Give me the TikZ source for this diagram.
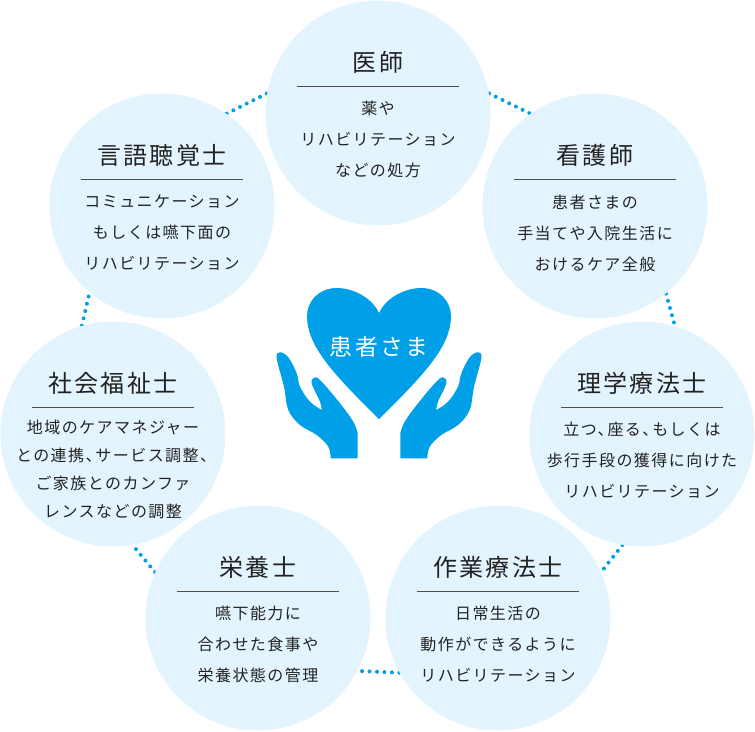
\documentclass[tikz,border=0pt]{standalone}
\usepackage{fontspec}
\usepackage{tikz}
\usetikzlibrary{backgrounds}
\newfontfamily\jpfont[LetterSpace=10]{Noto Sans CJK JP}
\newfontfamily\jpbodyfont[LetterSpace=9]{Noto Sans CJK JP}
\newcommand{\tightcomma}{、\kern-4.6pt\relax}
\definecolor{bubblefill}{HTML}{E4F4FF}
\definecolor{careblue}{HTML}{00A0E9}
\definecolor{inkgray}{HTML}{222222}
\tikzset{
    bubble/.style={circle, fill=bubblefill, minimum size=168.75pt, inner sep=0pt},
    head/.style={minimum width=121.5pt, minimum height=36pt, inner sep=0pt, text=inkgray, font=\jpfont\fontsize{18pt}{22pt}\selectfont},
    body/.style={align=center, inner sep=0pt, text=inkgray, font=\jpbodyfont\fontsize{12pt}{23.25pt}\selectfont},
    bodytight/.style={body, font=\jpbodyfont\fontsize{12pt}{21pt}\selectfont},
    headrule/.style={draw=inkgray!80, line width=0.9pt},
    dots/.style={draw=careblue, line width=3pt, line cap=round, dash pattern=on 0pt off 5.6pt},
}
\newcommand{\handshape}{
    plot[smooth, tension=0.6] coordinates {(330.7,458.3) (328.3,446.7) (316.7,435) (300,425) (288.3,410) (284,386.7) (276.7,358.3) (280,352.3) (288.3,357.3) (296.7,373.3) (300,386.7) (310,401.7) (321.7,410)}
    -- plot[smooth, tension=0.6] coordinates {(321.7,410) (320,401.7) (311.7,383.3) (315,377.3) (321.7,381.7) (340,403.3) (353.3,421.7) (357.7,433.3)}
    -- (357.7,458.3) -- cycle
}
\begin{document}
\begin{tikzpicture}[x=0.75pt, y=-0.75pt]
    \useasboundingbox (0,0) rectangle (755,731);

    % Draw the bubbles
    \node (doctor) [bubble] at (378,113) {};
    \node (nurse) [bubble] at (595,206) {};
    \node (therapist) [bubble] at (642,434) {};
    \node (occupational) [bubble] at (498,618) {};
    \node (dietitian) [bubble] at (258,618) {};
    \node (social) [bubble] at (113,434) {};
    \node (speech) [bubble] at (162,206) {};

    % Draw the dotted links behind them
    \begin{pgfonlayer}{background}
        \draw[dots] (doctor.10) -- (nurse.125);
        \draw[dots] (nurse.-51) -- (therapist.73);
        \draw[dots] (therapist.-100) -- (occupational.24);
        \draw[dots] (occupational.-151) -- (dietitian.-28);
        \draw[dots] (dietitian.156) -- (social.-80);
        \draw[dots] (social.106) -- (speech.230);
        \draw[dots] (speech.55) -- (doctor.170);
    \end{pgfonlayer}

    % Draw the titles
    \node (doctorhead) [head] at (378,62) {医師};
    \node (nursehead) [head] at (595,155) {看護師};
    \node (therapisthead) [head] at (642,383) {理学療法士};
    \node (occupationalhead) [head] at (498,567) {作業療法士};
    \node (dietitianhead) [head] at (258,567) {栄養士};
    \node (socialhead) [head] at (113,383) {社会福祉士};
    \node (speechhead) [head] at (162,155) {言語聴覚士};

    % Draw the rules under the titles
    \draw[headrule] (doctorhead.south west) -- (doctorhead.south east);
    \draw[headrule] (nursehead.south west) -- (nursehead.south east);
    \draw[headrule] (therapisthead.south west) -- (therapisthead.south east);
    \draw[headrule] (occupationalhead.south west) -- (occupationalhead.south east);
    \draw[headrule] (dietitianhead.south west) -- (dietitianhead.south east);
    \draw[headrule] (socialhead.south west) -- (socialhead.south east);
    \draw[headrule] (speechhead.south west) -- (speechhead.south east);

    % Draw the descriptions
    \node (doctorbody) [body] at (378,139) {薬や\\リハビリテーション\\などの処方};
    \node (nursebody) [body] at (595,233) {患者さまの\\手当てや入院生活に\\おけるケア全般};
    \node (therapistbody) [body] at (642,460) {立つ\tightcomma 座る\tightcomma もしくは\\歩行手段の獲得に向けた\\リハビリテーション};
    \node (occupationalbody) [body] at (498,644) {日常生活の\\動作ができるように\\リハビリテーション};
    \node (dietitianbody) [body] at (258,644) {嚥下能力に\\合わせた食事や\\栄養状態の管理};
    \node (socialbody) [bodytight] at (113,469) {地域のケアマネジャー\\との連携\tightcomma サービス調整\tightcomma \\ご家族とのカンファ\\レンスなどの調整};
    \node (speechbody) [body] at (162,233) {コミュニケーション\\もしくは嚥下面の\\リハビリテーション};

    % Draw the heart
    \fill[careblue] (379,313) .. controls (371,296) and (351,288) .. (337,288)
        .. controls (318,288) and (307,302) .. (307,316)
        .. controls (307,345) and (331,372) .. (379,419)
        .. controls (427,372) and (451,345) .. (451,316)
        .. controls (451,302) and (440,288) .. (421,288)
        .. controls (407,288) and (387,296) .. (379,313) -- cycle;
    \node (patient) [text=white, inner sep=0pt, font=\jpfont\fontsize{17.1pt}{20pt}\selectfont] at (379,347) {患者さま};

    % Draw the hands
    \fill[careblue] \handshape;
    \begin{scope}[shift={(758,0)}, xscale=-1]
        \fill[careblue] \handshape;
    \end{scope}
\end{tikzpicture}
\end{document}
